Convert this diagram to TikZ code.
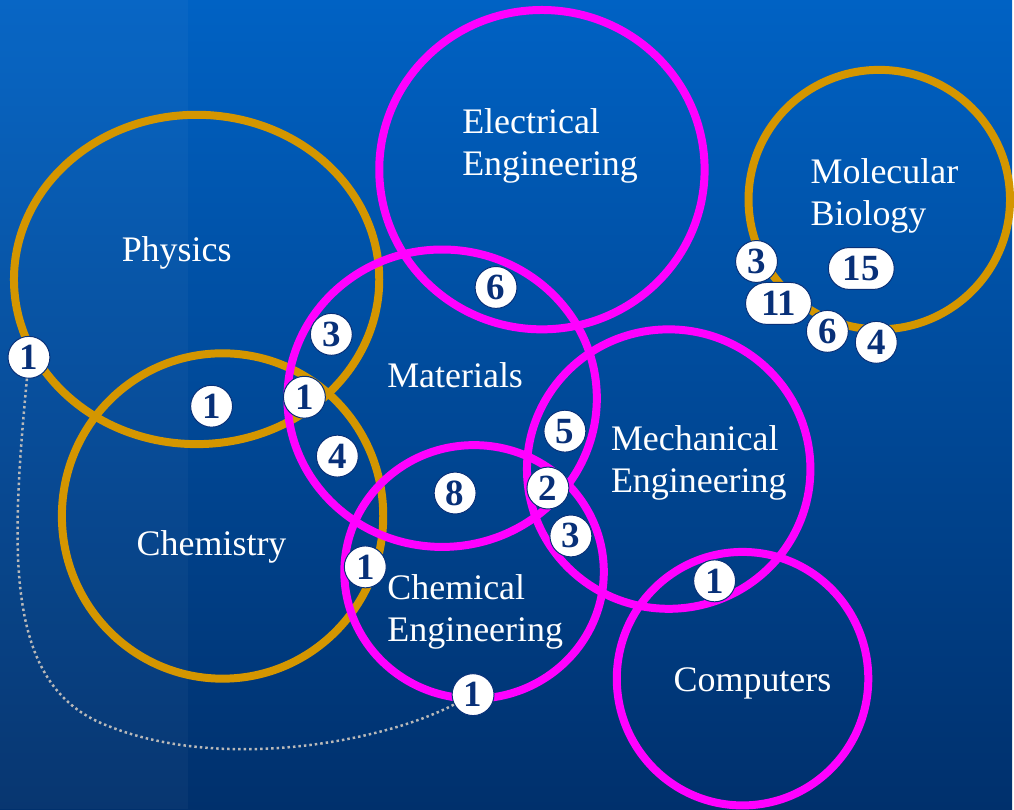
\documentclass[tikz,border=0pt]{standalone}
\usepackage{fontspec}
\setmainfont{Liberation Serif}
\usetikzlibrary{shapes.misc}
\definecolor{gold}{RGB}{212,150,0}
\definecolor{pink}{RGB}{255,0,255}
\definecolor{navy}{RGB}{8,48,120}
\definecolor{bgtop}{RGB}{0,98,196}
\definecolor{bgbot}{RGB}{0,48,108}
\begin{document}
\begin{tikzpicture}[x=1pt, y=-1pt,
    ring/.style={line width=8pt},
    field/.style={text=white, font=\fontsize{36}{42}\selectfont, align=left, inner sep=0pt},
    badge/.style={circle, fill=white, draw=navy, line width=1pt, minimum size=42pt, inner sep=0pt, text=navy, font=\fontsize{37}{37}\selectfont\bfseries},
    pill/.style={badge, rounded rectangle, minimum width=66pt},
    dots/.style={gray!55!white, line width=2.5pt, dash pattern=on 2.5pt off 3pt}]
    \shade[top color=bgtop, bottom color=bgbot] (0,0) rectangle (1014,811);
    \fill[white, opacity=0.03] (0,0) rectangle (188,811);
    % gold rings
    \draw[gold, ring] (197,280) ellipse [x radius=183pt, y radius=165pt];
    \draw[gold, ring] (223,517) ellipse [x radius=161pt, y radius=163pt];
    \draw[gold, ring] (881,200) ellipse [x radius=131pt, y radius=130pt];
    % pink rings
    \draw[pink, ring] (543,170) ellipse [x radius=163pt, y radius=160pt];
    \draw[pink, ring] (443,399) ellipse [x radius=155pt, y radius=149pt];
    \draw[pink, ring] (670,470) ellipse [x radius=142pt, y radius=140pt];
    \draw[pink, ring] (475,573) ellipse [x radius=130pt, y radius=127pt];
    \draw[pink, ring] (744,680) ellipse [x radius=126pt, y radius=127pt];
    % labels
    \node[field] (phys) at (177,253) {Physics};
    \node[field] (chem) at (212,548) {Chemistry};
    \node[field] (mat) at (456,376) {Materials};
    \node[field] (comp) at (754,685) {Computers};
    \node[field, anchor=west] (ee) at (463,146) {Electrical\\Engineering};
    \node[field, anchor=west] (bio) at (812,196) {Molecular\\Biology};
    \node[field, anchor=west] (me) at (612,464) {Mechanical\\Engineering};
    \node[field, anchor=west] (che) at (388,613) {Chemical\\Engineering};
    % counts
    \foreach \n/\x/\y/\t in {1/29/358/1, 2/212/407/1, 3/332/335/3, 4/305/398/1, 5/338/457/4,
        6/497/288/6, 7/566/432/5, 8/456/494/8, 9/549/489/2, 10/572/537/3, 11/366/568/1,
        12/716/582/1, 13/474/696/1, 14/758/262/3, 17/829/332/6, 18/878/343/4}
        \node[badge] (b\n) at (\x,\y) {\t};
    \node[pill] (b15) at (863,269) {15};
    \node[pill] (b16) at (780,304) {11};
    \draw[dots] (b1) .. controls (10,560) and (5,690) .. (110,728) .. controls (220,772) and (380,745) .. (b13);
\end{tikzpicture}
\end{document}
